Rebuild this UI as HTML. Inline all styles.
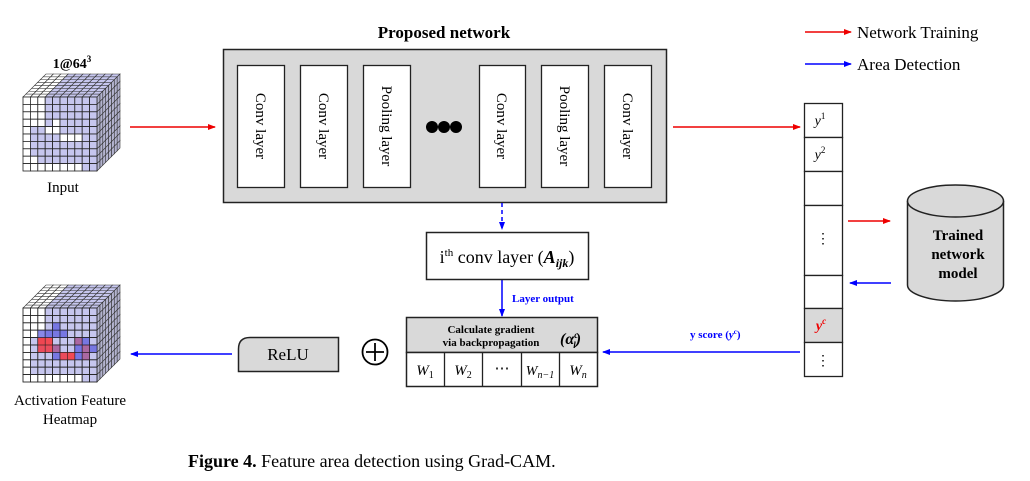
<!DOCTYPE html>
<html><head><meta charset="utf-8">
<style>
html,body{margin:0;padding:0;background:#fff;}
svg{display:block;}
text{font-family:"Liberation Serif",serif;}
</style></head>
<body>
<svg id="s" width="1030" height="481" viewBox="0 0 1030 481" xmlns="http://www.w3.org/2000/svg">
<defs>
<marker id="ar" markerWidth="8" markerHeight="8" refX="7" refY="4" orient="auto" markerUnits="userSpaceOnUse"><path d="M0,1 L8,4 L0,7 Z" fill="#e00"/></marker>
<marker id="ab" markerWidth="8" markerHeight="8" refX="7" refY="4" orient="auto" markerUnits="userSpaceOnUse"><path d="M0,1 L8,4 L0,7 Z" fill="#00f"/></marker>
</defs>
<g id="cubes"></g>

<text x="72" y="68" font-size="14" font-weight="bold" text-anchor="middle">1@64<tspan font-size="9" dy="-6">3</tspan></text>
<text x="63" y="192" font-size="15" text-anchor="middle">Input</text>
<text x="70" y="405" font-size="15" text-anchor="middle">Activation Feature</text>
<text x="70" y="424" font-size="15" text-anchor="middle">Heatmap</text>

<text x="444" y="38" font-size="17" font-weight="bold" text-anchor="middle">Proposed network</text>
<rect x="223.5" y="49.5" width="443" height="153" fill="#d9d9d9" stroke="#222" stroke-width="1.5"/>
<g fill="#fff" stroke="#222" stroke-width="1.3">
<rect x="237.5" y="65.5" width="47" height="122"/>
<rect x="300.5" y="65.5" width="47" height="122"/>
<rect x="363.5" y="65.5" width="47" height="122"/>
<rect x="479.5" y="65.5" width="46" height="122"/>
<rect x="541.5" y="65.5" width="47" height="122"/>
<rect x="604.5" y="65.5" width="47" height="122"/>
</g>
<g font-size="15">
<text transform="translate(256,126) rotate(90)" text-anchor="middle">Conv layer</text>
<text transform="translate(319,126) rotate(90)" text-anchor="middle">Conv layer</text>
<text transform="translate(382,126) rotate(90)" text-anchor="middle">Pooling layer</text>
<text transform="translate(497,126) rotate(90)" text-anchor="middle">Conv layer</text>
<text transform="translate(560,126) rotate(90)" text-anchor="middle">Pooling layer</text>
<text transform="translate(623,126) rotate(90)" text-anchor="middle">Conv layer</text>
</g>
<circle cx="432" cy="127" r="6" fill="#000"/><circle cx="444" cy="127" r="6" fill="#000"/><circle cx="456" cy="127" r="6" fill="#000"/>

<line x1="130" y1="127" x2="215" y2="127" stroke="#e00" stroke-width="1.5" marker-end="url(#ar)"/>
<line x1="673" y1="127" x2="800" y2="127" stroke="#e00" stroke-width="1.5" marker-end="url(#ar)"/>
<line x1="848" y1="221" x2="890" y2="221" stroke="#e00" stroke-width="1.5" marker-end="url(#ar)"/>
<line x1="891" y1="283" x2="850" y2="283" stroke="#00f" stroke-width="1.5" marker-end="url(#ab)"/>
<line x1="502" y1="203" x2="502" y2="229" stroke="#00f" stroke-width="1.5" stroke-dasharray="4,3" marker-end="url(#ab)"/>
<line x1="502" y1="280" x2="502" y2="316" stroke="#00f" stroke-width="1.5" marker-end="url(#ab)"/>
<line x1="800" y1="352" x2="603" y2="352" stroke="#00f" stroke-width="1.5" marker-end="url(#ab)"/>
<line x1="232" y1="354" x2="131" y2="354" stroke="#00f" stroke-width="1.5" marker-end="url(#ab)"/>

<line x1="805" y1="32" x2="851" y2="32" stroke="#e00" stroke-width="1.5" marker-end="url(#ar)"/>
<text x="857" y="38" font-size="17">Network Training</text>
<line x1="805" y1="64" x2="851" y2="64" stroke="#00f" stroke-width="1.5" marker-end="url(#ab)"/>
<text x="857" y="70" font-size="17">Area Detection</text>

<rect x="426.5" y="232.5" width="162" height="47" fill="#fff" stroke="#222" stroke-width="1.5"/>
<text x="507" y="263" font-size="18" text-anchor="middle">i<tspan font-size="11" dy="-7">th</tspan><tspan dy="7"> conv layer (</tspan><tspan font-style="italic" font-weight="bold">A</tspan><tspan font-style="italic" font-weight="bold" font-size="12" dy="4">ijk</tspan><tspan dy="-4">)</tspan></text>
<text x="512" y="302" font-size="11" font-weight="bold" fill="#00f">Layer output</text>

<rect x="406.5" y="317.5" width="191" height="35" fill="#d9d9d9" stroke="#222" stroke-width="1.5"/>
<rect x="406.5" y="352.5" width="191" height="34" fill="#fff" stroke="#222" stroke-width="1.5"/>
<g stroke="#222" stroke-width="1.3"><line x1="444.5" y1="352" x2="444.5" y2="386"/><line x1="482.5" y1="352" x2="482.5" y2="386"/><line x1="521.5" y1="352" x2="521.5" y2="386"/><line x1="559.5" y1="352" x2="559.5" y2="386"/></g>
<text x="491" y="333" font-size="11" font-weight="bold" text-anchor="middle">Calculate gradient</text>
<text x="491" y="346" font-size="11" font-weight="bold" text-anchor="middle">via backpropagation</text>
<text x="560" y="344" font-size="16" font-weight="bold" font-style="italic">(α<tspan font-size="9" dy="-6">c</tspan><tspan font-size="9" dx="-5" dy="10">l</tspan><tspan dy="-4">)</tspan></text>
<g font-size="15" font-style="italic" text-anchor="middle">
<text x="425" y="375">W<tspan font-style="normal" font-size="10" dy="3">1</tspan></text>
<text x="463" y="375">W<tspan font-style="normal" font-size="10" dy="3">2</tspan></text>
<text x="502" y="373" font-style="normal">⋯</text>
<text x="540" y="375" font-size="14">W<tspan font-size="10" dy="3">n−1</tspan></text>
<text x="578" y="375">W<tspan font-size="10" dy="3">n</tspan></text>
</g>
<text x="690" y="338" font-size="11" font-weight="bold" fill="#00f">y score (<tspan font-style="italic">y</tspan><tspan font-size="7" dy="-4">c</tspan><tspan dy="4">)</tspan></text>

<circle cx="375" cy="352" r="12.5" fill="#fff" stroke="#000" stroke-width="1.8"/>
<line x1="366" y1="352" x2="384" y2="352" stroke="#000" stroke-width="1.8"/><line x1="375" y1="343" x2="375" y2="361" stroke="#000" stroke-width="1.8"/>
<path d="M250,337.5 H338.5 V371.5 H238.5 V349 Q238.5,337.5 250,337.5 Z" fill="#d9d9d9" stroke="#222" stroke-width="1.5"/>
<text x="288" y="360" font-size="17" text-anchor="middle">ReLU</text>

<g stroke="#222" stroke-width="1.3">
<rect x="804.5" y="103.5" width="38" height="34" fill="#fff"/>
<rect x="804.5" y="137.5" width="38" height="34" fill="#fff"/>
<rect x="804.5" y="171.5" width="38" height="34" fill="#fff"/>
<rect x="804.5" y="205.5" width="38" height="70" fill="#fff"/>
<rect x="804.5" y="275.5" width="38" height="33" fill="#fff"/>
<rect x="804.5" y="308.5" width="38" height="34" fill="#d9d9d9"/>
<rect x="804.5" y="342.5" width="38" height="34" fill="#fff"/>
</g>
<text x="820" y="125" font-size="14" font-style="italic" text-anchor="middle">y<tspan font-style="normal" font-size="9" dy="-6">1</tspan></text>
<text x="820" y="159" font-size="14" font-style="italic" text-anchor="middle">y<tspan font-style="normal" font-size="9" dy="-6">2</tspan></text>
<text x="823" y="243" font-size="14" text-anchor="middle">⋮</text>
<text x="821" y="330" font-size="14" font-style="italic" font-weight="bold" fill="#e00" text-anchor="middle">y<tspan font-size="9" dy="-6">c</tspan></text>
<text x="823" y="365" font-size="14" text-anchor="middle">⋮</text>

<path d="M907.5,201 V285 A48,16 0 0 0 1003.5,285 V201" fill="#d9d9d9" stroke="#222" stroke-width="1.5"/>
<ellipse cx="955.5" cy="201" rx="48" ry="16" fill="#d9d9d9" stroke="#222" stroke-width="1.5"/>
<g font-size="15" font-weight="bold" text-anchor="middle"><text x="958" y="240">Trained</text><text x="958" y="259">network</text><text x="958" y="278">model</text></g>

<text x="188" y="467" font-size="18"><tspan font-weight="bold">Figure 4.</tspan>   Feature area detection using Grad-CAM.</text>
</svg>
<script>
(function(){
var g=document.getElementById('cubes');var NS='http://www.w3.org/2000/svg';
function el(t,a){var e=document.createElementNS(NS,t);for(var k in a)e.setAttribute(k,a[k]);g.appendChild(e);return e;}
function cube(x0,y0,heat){
 var n=10,c=7.4,dx=23,dy=-23,L=8,ox=dx/L,oy=dy/L;
 var lav='#c6c6ee';
 for(var k=L-1;k>=0;k--)for(var i=0;i<n;i++){
  var x=x0+i*c+k*ox,y=y0+k*oy;
  el('path',{d:'M'+x+','+y+' l'+c+',0 l'+ox+','+oy+' l'+(-c)+',0 Z',fill:(i>=3?lav:'#fff'),stroke:'#333','stroke-width':0.6});
 }
 for(var k=L-1;k>=0;k--)for(var j=0;j<n;j++){
  var x=x0+n*c+k*ox,y=y0+j*c+k*oy;
  el('path',{d:'M'+x+','+y+' l'+ox+','+oy+' l0,'+c+' l'+(-ox)+','+(-oy)+' Z',fill:'#b4b4d0',stroke:'#333','stroke-width':0.6});
 }
 var W={'3,4':1,'4,3':1,'4,4':1,'5,5':1,'5,6':1,'5,7':1,'8,1':1};
 for(var j=0;j<n;j++)for(var i=0;i<n;i++){
  var f='#fff';
  if(i>=3)f=lav;
  if(j>=4&&i>=1&&j<9)f=lav;
  if(j==9&&i<8)f='#fff';
  if(!heat&&W[j+','+i])f='#fff';
  if(heat&&i==0)f='#fff';
  el('rect',{x:x0+i*c,y:y0+j*c,width:c,height:c,fill:f,stroke:'#222','stroke-width':0.8});
 }
 if(heat){
  var B=[[2,4],[3,2],[3,3],[3,4],[3,5],[4,2],[5,2],[5,3],[6,4],[6,5],[5,7],[6,7],[4,8],[5,9]];
  B.forEach(function(p){el('rect',{x:x0+p[1]*c,y:y0+p[0]*c,width:c,height:c,fill:'#5555dd','fill-opacity':0.7});});
  var P=[[4,2],[4,3],[5,4],[6,6],[5,8],[6,8],[4,7]];
  P.forEach(function(p){el('rect',{x:x0+p[1]*c,y:y0+p[0]*c,width:c,height:c,fill:'#a04080','fill-opacity':0.7});});
  var R=[[4,3],[5,3],[5,2],[6,5],[6,6],[4,2]];
  R.forEach(function(p){el('rect',{x:x0+p[1]*c,y:y0+p[0]*c,width:c,height:c,fill:'#ff4444','fill-opacity':0.85});});
  for(var j=0;j<n;j++)for(var i=0;i<n;i++)el('rect',{x:x0+i*c,y:y0+j*c,width:c,height:c,fill:'none',stroke:'#222','stroke-width':0.6,'stroke-opacity':0.6});
 }
}
cube(23,97,false);
cube(23,308,true);
})();
</script>
</body></html>
